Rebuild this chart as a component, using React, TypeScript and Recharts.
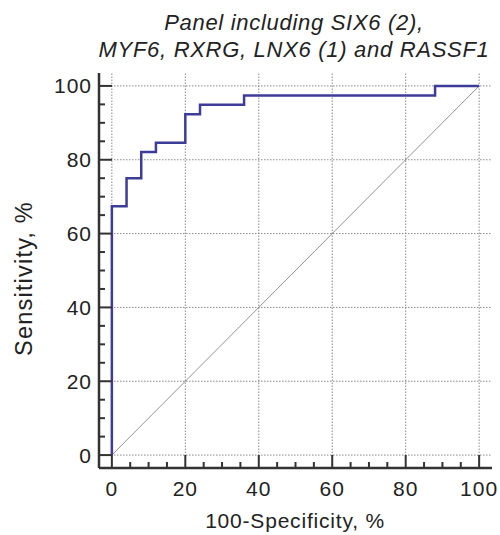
import React from "react";
import { LineChart, Line, XAxis, YAxis, ReferenceLine } from "recharts";

const TITLE_LINES = ["Panel including SIX6 (2),", "MYF6, RXRG, LNX6 (1) and RASSF1"];
const X_TITLE = "100-Specificity, %";
const Y_TITLE = "Sensitivity, %";

// ROC curve corner points (100-specificity, sensitivity)
const FPR = [0, 0, 4, 8, 12, 20, 24, 36, 88, 100];
const TPR = [0, 67.4, 75, 82.1, 84.6, 92.3, 94.9, 97.4, 100, 100];

const MAJOR_TICKS = [0, 20, 40, 60, 80, 100];
const ALL_TICKS = [0, 5, 10, 15, 20, 25, 30, 35, 40, 45, 50, 55, 60, 65, 70, 75, 80, 85, 90, 95, 100];

const FONT = '"Liberation Sans", Arial, sans-serif';
const AXIS_COLOR = "#333";
const CURVE_COLOR = "#3d3d99";
const GRID_COLOR = "#8a8a8a";

const rocData = FPR.map((f, i) => ({ fpr: f, tpr: TPR[i] }));

const XTick = (props: any) => {
    const { x, y, payload } = props;
    const v = payload.value;
    const major = v % 20 === 0;
    return (
        <g>
            <line x1={x} x2={x} y1={y} y2={y - (major ? 13 : 6)} stroke={AXIS_COLOR} strokeWidth={2} />
            {major && (
                <text x={x} y={y + 27.5} textAnchor="middle" fontFamily={FONT} fontSize={21} letterSpacing={1} fill="#222">
                    {v}
                </text>
            )}
        </g>
    );
};

const YTick = (props: any) => {
    const { x, y, payload } = props;
    const v = payload.value;
    const major = v % 20 === 0;
    return (
        <g>
            <line x1={x} x2={x + (major ? 13 : 6)} y1={y} y2={y} stroke={AXIS_COLOR} strokeWidth={2} />
            {major && (
                <text x={x - 7} y={y + 7.5} textAnchor="end" fontFamily={FONT} fontSize={21} letterSpacing={1} fill="#222">
                    {v}
                </text>
            )}
        </g>
    );
};

export default function App() {
    return (
        <div style={{ position: "absolute", left: 0, top: 0, width: 500, height: 535 }}>
            <LineChart width={500} height={535} data={rocData} margin={{ top: 73, right: 8, bottom: 0, left: 0 }}>
                {MAJOR_TICKS.map((v) => (
                    <ReferenceLine key={`gx${v}`} x={v} stroke={GRID_COLOR} strokeWidth={1} strokeDasharray="1.5 1.5" />
                ))}
                {MAJOR_TICKS.map((v) => (
                    <ReferenceLine key={`gy${v}`} y={v} stroke={GRID_COLOR} strokeWidth={1} strokeDasharray="1.5 1.5" />
                ))}
                <ReferenceLine
                    segment={[{ x: 0, y: 0 }, { x: 100, y: 100 }]}
                    stroke="#777"
                    strokeWidth={0.8}
                />
                <XAxis
                    type="number"
                    dataKey="fpr"
                    domain={[-3.5, 103.5]}
                    ticks={ALL_TICKS}
                    interval={0}
                    height={67}
                    tickSize={0}
                    tickMargin={0}
                    tickLine={false}
                    axisLine={{ stroke: AXIS_COLOR, strokeWidth: 2.5 }}
                    tick={<XTick />}
                    allowDataOverflow
                />
                <YAxis
                    type="number"
                    domain={[-3.5, 103.5]}
                    ticks={ALL_TICKS}
                    interval={0}
                    width={99}
                    tickSize={0}
                    tickMargin={0}
                    tickLine={false}
                    axisLine={{ stroke: AXIS_COLOR, strokeWidth: 2.5 }}
                    tick={<YTick />}
                    allowDataOverflow
                />
                <Line
                    type="stepAfter"
                    dataKey="tpr"
                    stroke={CURVE_COLOR}
                    strokeWidth={2.5}
                    dot={false}
                    activeDot={false}
                    isAnimationActive={false}
                />
            </LineChart>
            <svg
                width={500}
                height={535}
                style={{ position: "absolute", left: 0, top: 0, pointerEvents: "none" }}
            >
                {TITLE_LINES.map((t, i) => (
                    <text
                        key={t}
                        x={294}
                        y={30 + i * 27}
                        textAnchor="middle"
                        fontFamily={FONT}
                        fontStyle="italic"
                        fontSize={22}
                        letterSpacing={0.7}
                        fill="#222"
                    >
                        {t}
                    </text>
                ))}
                <text x={295} y={528} textAnchor="middle" fontFamily={FONT} fontSize={21} letterSpacing={0.8} fill="#222">
                    {X_TITLE}
                </text>
                <text
                    x={32}
                    y={278.5}
                    transform="rotate(-90 32 278.5)"
                    textAnchor="middle"
                    fontFamily={FONT}
                    fontSize={23.5}
                    letterSpacing={1.2}
                    fill="#222"
                >
                    {Y_TITLE}
                </text>
            </svg>
        </div>
    );
}
